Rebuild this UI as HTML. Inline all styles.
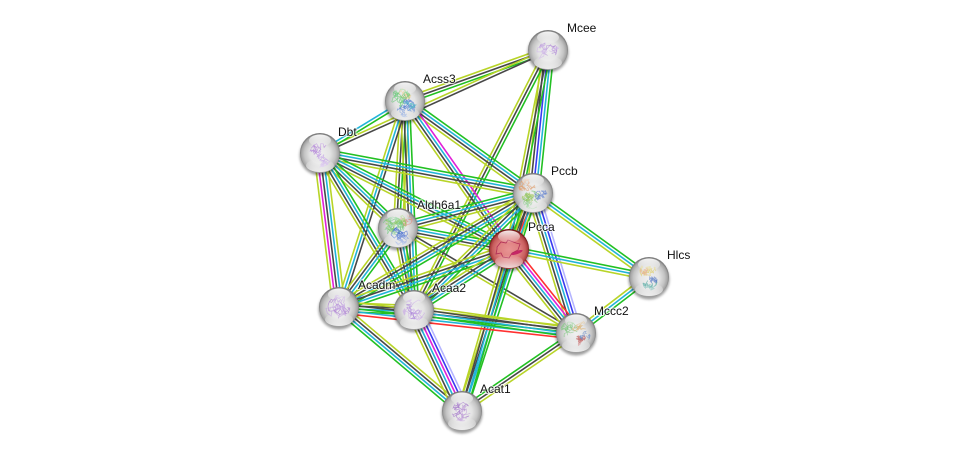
<!DOCTYPE html>
<html>
<head>
<meta charset="utf-8">
<style>
html,body{margin:0;padding:0;background:#fff;width:976px;height:456px;overflow:hidden}
svg{display:block}
text{font-family:"Liberation Sans",sans-serif;font-size:12px;fill:#111;paint-order:stroke;stroke:#fff;stroke-width:2px;stroke-opacity:.75}
</style>
</head>
<body>
<svg xmlns="http://www.w3.org/2000/svg" width="976" height="456" viewBox="0 0 976 456">
<defs>
<radialGradient id="ball" cx="50%" cy="52%" r="50%">
<stop offset="0" stop-color="#f0f0f0"/><stop offset=".5" stop-color="#e4e4e4"/><stop offset=".78" stop-color="#c4c4c4"/><stop offset=".93" stop-color="#a4a4a4"/><stop offset="1" stop-color="#7c7c7c"/>
</radialGradient>
<radialGradient id="red" cx="50%" cy="52%" r="50%">
<stop offset="0" stop-color="#e89494"/><stop offset=".55" stop-color="#de7e7e"/><stop offset=".82" stop-color="#c85e5e"/><stop offset=".94" stop-color="#a83e3e"/><stop offset="1" stop-color="#701818"/>
</radialGradient>
<linearGradient id="hi" x1="0" y1="0" x2="0" y2="1">
<stop offset="0" stop-color="#fff" stop-opacity=".9"/><stop offset="1" stop-color="#fff" stop-opacity=".1"/>
</linearGradient>
<linearGradient id="lo" x1="0" y1="0" x2="0" y2="1">
<stop offset="0" stop-color="#fff" stop-opacity="0"/><stop offset="1" stop-color="#fff" stop-opacity=".8"/>
</linearGradient>
<filter id="blur" x="-30%" y="-30%" width="160%" height="160%"><feGaussianBlur stdDeviation="1.3"/></filter>
</defs>
<g id="edges" fill="none" stroke-width="1.6"></g>
<g id="nodes"></g>
<g>
<text x="567" y="32">Mcee</text>
<text x="423" y="83">Acss3</text>
<text x="338" y="136">Dbt</text>
<text x="551" y="175">Pccb</text>
<text x="417" y="209">Aldh6a1</text>
<text x="528" y="231">Pcca</text>
<text x="667" y="259">Hlcs</text>
<text x="358" y="289">Acadm</text>
<text x="432" y="292">Acaa2</text>
<text x="594" y="315">Mccc2</text>
<text x="480" y="393">Acat1</text>
</g>
</svg>
<script>
var NS="http://www.w3.org/2000/svg";
var N={
Mcee:[548,50,[["#b48fd8",0,0,9,3],["#d0b8e8",0,2,11,3]]],
Acss3:[405,101,[["#e8c880",-1,-9,8,3],["#66cc77",-4,-2,10,5],["#4a78d0",1,7,9,6],["#58b8c8",5,3,6,3]]],
Dbt:[320,153,[["#b080d8",0,0,10,3],["#c8a8e8",0,2,12,3]]],
Pccb:[533,193,[["#e0a070",-6,-6,8,5],["#70c070",-1,7,9,5],["#6080d0",8,2,6,4],["#a0c860",-3,1,9,3]]],
Aldh6a1:[398,228,[["#70c880",-5,0,11,8],["#4a70d0",2,8,9,7],["#e09080",8,-8,6,3],["#90c860",-2,-5,10,4]]],
Pcca:[509,249,[]],
Hlcs:[649,277,[["#e0d070",-1,-6,8,4],["#50a8a0",1,6,7,4],["#6080c8",2,3,6,3],["#e8b090",-4,-3,6,2]]],
Acadm:[339,307,[["#a878d0",0,0,11,3],["#c0a0e0",0,1,13,4]]],
Acaa2:[414,310,[["#a880d8",0,0,9,3],["#c8a8e4",0,0,11,4]]],
Mccc2:[576,333,[["#80c880",-7,-3,8,5],["#c06060",5,8,6,4],["#7090c8",9,3,5,3],["#d8b070",3,-6,7,3]]],
Acat1:[462,411,[["#a070c8",-1,0,9,4],["#c0a0d8",0,0,10,3]]]
};
var C={g:"#22c022",c:"#22b4d8",k:"#484848",y:"#b8d428",m:"#e020d8",r:"#ff3030",b:"#3a3af0",p:"#b4b4ff"};
var E=[
["Mcee","Acss3","gky"],["Mcee","Dbt","ky"],["Mcee","Pccb","gcbky"],["Mcee","Pcca","gky"],["Mcee","Acaa2","gky"],
["Acss3","Dbt","gc"],["Acss3","Aldh6a1","ygky"],["Acss3","Acaa2","gcky"],["Acss3","Acadm","kcy"],
["Acss3","Pccb","gcky"],["Acss3","Pcca","mcky"],
["Dbt","Pccb","gcky"],["Dbt","Pcca","gcky"],["Dbt","Aldh6a1","gcky"],["Dbt","Acaa2","gcky"],["Dbt","Acadm","yckmy"],
["Aldh6a1","Pccb","gcky"],["Aldh6a1","Pcca","gcky"],["Aldh6a1","Mccc2","ky"],["Aldh6a1","Acadm","gcky"],["Aldh6a1","Acaa2","gcky"],
["Pccb","Pcca","yrkgc"],["Pccb","Hlcs","gcy"],["Pccb","Mccc2","pbcky"],["Pccb","Acadm","gcky"],["Pccb","Acaa2","gcky"],["Pccb","Acat1","gcky"],
["Pcca","Hlcs","gcy"],["Pcca","Mccc2","rmcky"],["Pcca","Acadm","gcky"],["Pcca","Acaa2","gcky"],["Pcca","Acat1","gcky"],
["Hlcs","Mccc2","gcy"],
["Acadm","Acaa2","ykcg"],["Acadm","Mccc2","ykgcr"],["Acaa2","Mccc2","ykcg"],
["Acadm","Acat1","ykcg"],["Acaa2","Acat1","pbmcky"],["Mccc2","Acat1","ykg"]
];
function el(t,a,p){var e=document.createElementNS(NS,t);for(var k in a)e.setAttribute(k,a[k]);p.appendChild(e);return e;}
var eg=document.getElementById("edges"),ng=document.getElementById("nodes");
var sp=3;
E.forEach(function(d){
  var a=N[d[0]],b=N[d[1]],dx=b[0]-a[0],dy=b[1]-a[1],L=Math.hypot(dx,dy),nx=-dy/L,ny=dx/L,s=d[2];
  for(var i=0;i<s.length;i++){
    var o=(i-(s.length-1)/2)*sp;
    el("line",{x1:(a[0]+nx*o).toFixed(1),y1:(a[1]+ny*o).toFixed(1),x2:(b[0]+nx*o).toFixed(1),y2:(b[1]+ny*o).toFixed(1),stroke:C[s[i]]},eg);
  }
});
var seed=11;function R(){seed=(seed*16807)%2147483647;return seed/2147483647;}
Object.keys(N).forEach(function(k){
  var n=N[k],x=n[0],y=n[1],isR=k==="Pcca";
  el("ellipse",{cx:x,cy:y+2.5,rx:20.5,ry:20,fill:"#000","fill-opacity":.38,filter:"url(#blur)"},ng);
  el("circle",{cx:x,cy:y,r:20,fill:isR?"url(#red)":"url(#ball)"},ng);
  if(isR){
    el("path",{d:"M"+(x-12)+" "+(y-2)+"l4 -5l5 1l2 -3l8 3l4 1l-2 6l-6 3l-3 5l-6 -1l-2 -4l-5 1l1 -5z",fill:"none",stroke:"#a82050","stroke-width":.8,"stroke-opacity":.85},ng);
    el("ellipse",{cx:x+8,cy:y+3.5,rx:6,ry:1.6,transform:"rotate(-20 "+(x+8)+" "+(y+3.5)+")",fill:"#c01860","fill-opacity":.85},ng);
  }
  n[2].forEach(function(b){
    var c=b[0],cx=x+b[1],cy=y+b[2],rad=b[3],strands=b[4];
    for(var s=0;s<strands;s++){
      var px=cx+(R()-.5)*rad,py=cy+(R()-.5)*rad,p="M"+px.toFixed(1)+" "+py.toFixed(1);
      for(var i=0;i<14;i++){
        px+=(R()-.5)*rad*.9;py+=(R()-.5)*rad*.9;
        var ddx=px-cx,ddy=py-cy,r=Math.hypot(ddx,ddy);
        if(r>rad){px=cx+ddx*rad/r;py=cy+ddy*rad/r;}
        p+="L"+px.toFixed(1)+" "+py.toFixed(1);
      }
      el("path",{d:p,fill:"none",stroke:c,"stroke-width":.7,"stroke-opacity":.7},ng);
    }
  });
  el("ellipse",{cx:x,cy:y-12.5,rx:11,ry:6,fill:"url(#hi)"},ng);
  el("ellipse",{cx:x,cy:y+12.5,rx:14,ry:6.5,fill:"url(#lo)"},ng);
});
</script>
</body>
</html>
